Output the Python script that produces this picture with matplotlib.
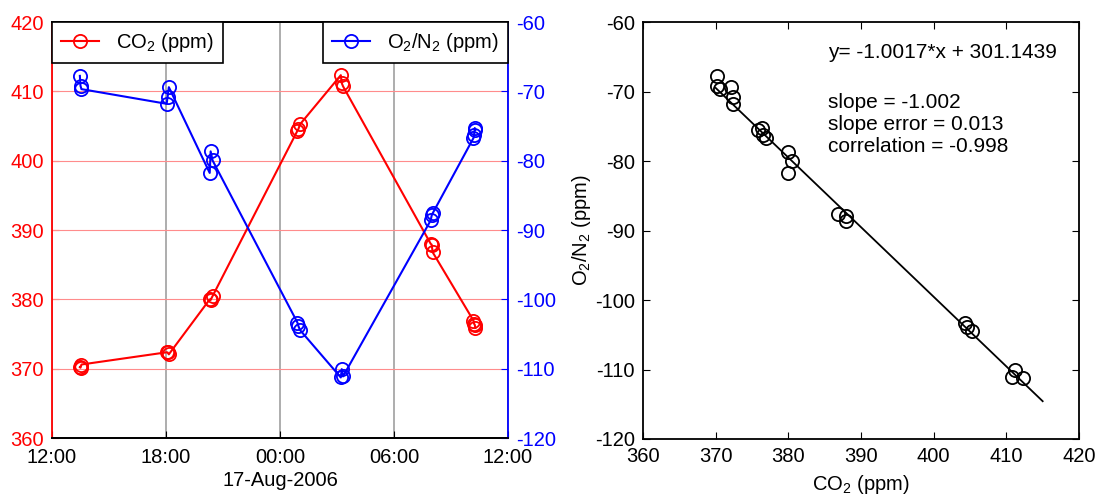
import numpy as np
import matplotlib
matplotlib.use("Agg")
import matplotlib.pyplot as plt
import matplotlib.dates as mdates
from matplotlib.lines import Line2D

plt.rcParams['font.family'] = ['Liberation Sans', 'DejaVu Sans']
plt.rcParams['mathtext.fontset'] = 'custom'
plt.rcParams['mathtext.rm'] = 'Liberation Sans'
plt.rcParams['mathtext.it'] = 'Liberation Sans:italic'
plt.rcParams['axes.unicode_minus'] = False

# ---------------- data ----------------
times = ['2006-08-16T13:28', '2006-08-16T13:30', '2006-08-16T13:33',
         '2006-08-16T18:02', '2006-08-16T18:05', '2006-08-16T18:09',
         '2006-08-16T20:18', '2006-08-16T20:21', '2006-08-16T20:27',
         '2006-08-17T00:55', '2006-08-17T00:58', '2006-08-17T01:03',
         '2006-08-17T03:12', '2006-08-17T03:15', '2006-08-17T03:19',
         '2006-08-17T07:56', '2006-08-17T07:59', '2006-08-17T08:02',
         '2006-08-17T10:11', '2006-08-17T10:13', '2006-08-17T10:15', '2006-08-17T10:17']
co2 = [370.22, 370.14, 370.60,
       372.36, 372.34, 372.07,
       379.99, 379.91, 380.46,
       404.31, 404.54, 405.23,
       412.33, 411.19, 410.73,
       388.00, 387.90, 386.80,
       376.93, 376.47, 376.33, 375.87]
o2n2 = [-67.77, -69.21, -69.68,
        -71.80, -70.83, -69.40,
        -81.77, -78.66, -79.96,
        -103.35, -103.84, -104.42,
        -111.27, -110.07, -111.12,
        -88.60, -87.90, -87.60,
        -76.73, -76.26, -75.29, -75.54]
fit_slope = -1.0017
fit_intercept = 301.1439
fit_x_range = [370, 415]
stats_text = ["y= -1.0017*x + 301.1439", "slope = -1.002",
              "slope error = 0.013", "correlation = -0.998"]
time_range = ['2006-08-16T12:00', '2006-08-17T12:00']
co2_ticks = [360, 370, 380, 390, 400, 410, 420]
o2_ticks = [-120, -110, -100, -90, -80, -70, -60]

# ---------------- figure ----------------
FS = 14.5
TFS = 15
fig = plt.figure(figsize=(10.98, 4.97), dpi=100)
t = np.array(times, dtype='datetime64[m]').astype('datetime64[ms]').astype(object)
tlim = np.array(time_range, dtype='datetime64[m]').astype('datetime64[ms]').astype(object)

ax = fig.add_axes([52/1098, 1-438/497, 456/1098, 416/497])
ax2 = ax.twinx()

ms = 9.5
ax.plot(t, co2, '-o', color='red', mfc='none', mec='red', ms=ms, mew=1.3, lw=1.5, zorder=3)
ax2.plot(t, o2n2, '-o', color='blue', mfc='none', mec='blue', ms=ms, mew=1.3, lw=1.5, zorder=3)

ax.set_xlim(tlim[0], tlim[1])
ax.set_ylim(co2_ticks[0], co2_ticks[-1])
ax2.set_ylim(o2_ticks[0], o2_ticks[-1])
ax.set_yticks(co2_ticks)
ax2.set_yticks(o2_ticks)
ax.xaxis.set_major_locator(mdates.HourLocator(byhour=[0, 6, 12, 18]))
ax.xaxis.set_major_formatter(mdates.DateFormatter('%H:%M'))
ax.set_xlabel('17-Aug-2006', fontsize=FS, labelpad=3)

for yv in co2_ticks[1:-1]:
    ax.axhline(yv, color='#ff8c8c', lw=0.8, zorder=1)
ax.grid(axis='x', color='#a0a0a0', lw=1.2, zorder=1)
ax.set_axisbelow(True)

ax.tick_params(axis='y', colors='red', direction='in', labelsize=FS, length=5, pad=6)
ax.tick_params(axis='x', colors='black', direction='in', labelsize=FS, length=5, pad=7)
ax2.tick_params(axis='y', colors='blue', direction='in', labelsize=FS, length=5, pad=6)
ax.spines['left'].set_color('red')
ax.spines['right'].set_visible(False)
ax2.spines['left'].set_visible(False)
ax2.spines['right'].set_color('blue')
for a in (ax, ax2):
    for s in a.spines.values():
        s.set_linewidth(1.3)

h1 = Line2D([], [], color='red', marker='o', mfc='none', mec='red', ms=ms, mew=1.3, lw=1.5)
h2 = Line2D([], [], color='blue', marker='o', mfc='none', mec='blue', ms=ms, mew=1.3, lw=1.5)
leg_kw = dict(borderaxespad=0, fontsize=FS, fancybox=False, framealpha=1, edgecolor='black',
              handlelength=1.9, borderpad=0.45, handletextpad=0.85)
leg1 = ax2.legend([h1], ['CO$_2$ (ppm)'], loc='upper left', **leg_kw)
leg1.get_frame().set_linewidth(1.2)
ax2.add_artist(leg1)
leg2 = ax2.legend([h2], ['O$_2$/N$_2$ (ppm)'], loc='upper right', **leg_kw)
leg2.get_frame().set_linewidth(1.2)

# ---------------- scatter panel ----------------
bx = fig.add_axes([643/1098, 1-439/497, 436/1098, 417/497])
bx.plot(co2, o2n2, 'o', mfc='none', mec='black', ms=ms, mew=1.3, ls='none')
fx = np.array(fit_x_range, dtype=float)
bx.plot(fx, fit_slope*fx + fit_intercept, '-', color='black', lw=1.3)
bx.set_xlim(co2_ticks[0], co2_ticks[-1])
bx.set_ylim(o2_ticks[0], o2_ticks[-1])
bx.set_xticks(co2_ticks)
bx.set_yticks(o2_ticks)
bx.tick_params(direction='in', labelsize=FS, length=5, top=True, right=True, pad=6)
for s in bx.spines.values():
    s.set_linewidth(1.3)
bx.set_xlabel('CO$_2$ (ppm)', fontsize=FS, labelpad=5)
bx.set_ylabel('O$_2$/N$_2$ (ppm)', fontsize=FS, labelpad=1)

# text lines placed in pixel rows (from top of axes)
text_left_px = 185
text_rows_px = [30, 80, 102, 124.5]
for s, r in zip(stats_text, text_rows_px):
    bx.annotate(s, xy=(0, 1), xycoords='axes fraction',
                xytext=(text_left_px * 0.72, -r * 0.72), textcoords='offset points',
                fontsize=TFS, ha='left', va='center')

fig.savefig('out.png', dpi=100)
